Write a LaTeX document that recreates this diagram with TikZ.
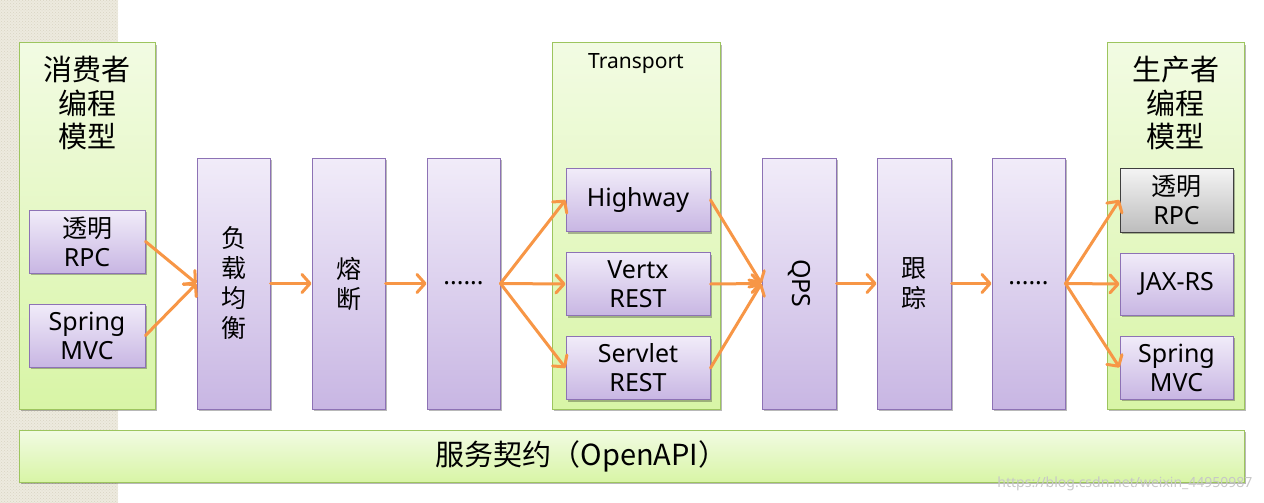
\documentclass[tikz,border=0pt]{standalone}
\usepackage{fontspec}
\setmainfont{Noto Sans}
\newfontfamily\cjk{Noto Sans CJK SC}
\usetikzlibrary{arrows.meta,shadows,patterns}
\definecolor{purpTop}{HTML}{F1ECF9}
\definecolor{purpBot}{HTML}{C8B6E3}
\definecolor{purpBorder}{HTML}{8D72B5}
\definecolor{grnTop}{HTML}{F2FBE3}
\definecolor{grnBot}{HTML}{D8F5A6}
\definecolor{grnBorder}{HTML}{9DC55E}
\definecolor{grayTop}{HTML}{F4F4F4}
\definecolor{grayBot}{HTML}{BDBDBD}
\definecolor{grayBorder}{HTML}{3F3F3F}
\definecolor{flowOrange}{HTML}{F79646}
\definecolor{beige}{HTML}{EDEADF}
\definecolor{beigeDot}{HTML}{D9D5C2}
\begin{document}
\begin{tikzpicture}[x=1pt,y=-1pt,
  shadowed/.style={drop shadow={shadow xshift=1.5pt,shadow yshift=-2pt,opacity=0.28,fill=black}},
  purplebox/.style={shadowed,draw=purpBorder,line width=1pt,top color=purpTop,bottom color=purpBot,
    inner sep=0pt,align=center,font=\fontsize{25}{30}\selectfont},
  graybox/.style={shadowed,draw=grayBorder,line width=1pt,top color=grayTop,bottom color=grayBot,
    inner sep=0pt,align=center,font=\fontsize{25}{29}\selectfont},
  greenbox/.style={shadowed,draw=grnBorder,line width=1pt,top color=grnTop,bottom color=grnBot,inner sep=0pt},
  smallbox/.style={purplebox,minimum width=116pt,minimum height=63pt,font=\fontsize{25}{29}\selectfont},
  tallbox/.style={purplebox,minimum width=73pt,minimum height=251pt},
  tbox/.style={purplebox,minimum width=144pt,minimum height=63pt,font=\fontsize{25}{29}\selectfont},
  pbox/.style={purplebox,minimum width=113pt,minimum height=63pt,font=\fontsize{25}{29}\selectfont},
  titletext/.style={align=center,font=\fontsize{29}{33.5}\selectfont\cjk},
  flow/.style={draw=flowOrange,line width=3pt,line cap=round,
    -{Straight Barb[length=8pt,width=18pt,line cap=round,line join=round]}}
]
\useasboundingbox (0,0) rectangle (1264,503);
% beige strip
\fill[beige] (0,0) rectangle (118,503);
\fill[pattern=crosshatch dots,pattern color=beigeDot] (0,0) rectangle (118,503);

% green containers
\node[greenbox,minimum width=136pt,minimum height=366pt] (cons) at (87,226) {};
\node[greenbox,minimum width=168pt,minimum height=366pt] (trans) at (636,226) {};
\node[greenbox,minimum width=137pt,minimum height=366pt] (prod) at (1175.5,226) {};
\node[greenbox,minimum width=1225pt,minimum height=52pt] (contract) at (631.5,456) {};
\node[font=\fontsize{29}{33}\selectfont\cjk] (contracttext) at (581.5,456) {服务契约（OpenAPI）};

% titles
\node[titletext] (constitle) at (87,103) {消费者\\编程\\模型};
\node[titletext] (prodtitle) at (1175.5,103) {生产者\\编程\\模型};
\node[font=\fontsize{21}{24}\selectfont] (transtitle) at (636,64) {Transport};

% consumer boxes
\node[smallbox] (crpc) at (87,241.5) {{\cjk 透明}\\RPC};
\node[smallbox] (cspring) at (87,335.5) {Spring\\MVC};

% chain boxes
\node[tallbox] (lb) at (233.5,283.5) {\cjk 负\\\cjk 载\\\cjk 均\\\cjk 衡};
\node[tallbox] (fuse) at (348.5,283.5) {\cjk 熔\\\cjk 断};
\node[tallbox] (dotsa) at (463.5,283.5) {......};

% transport boxes
\node[tbox] (highway) at (638,200) {Highway};
\node[tbox] (vertx) at (638,284) {Vertx\\REST};
\node[tbox] (servlet) at (638,368) {Servlet\\REST};

\node[tallbox,minimum width=74pt] (qps) at (799,283.5) {};
\node[rotate=-90,font=\fontsize{25}{30}\selectfont] (qpstext) at (qps.center) {QPS};
\node[tallbox,minimum width=74pt] (trace) at (914,283.5) {\cjk 跟\\\cjk 踪};
\node[tallbox] (dotsb) at (1028.5,283.5) {......};

% producer boxes
\node[graybox,minimum width=113pt,minimum height=64pt] (prpc) at (1176.5,200) {{\cjk 透明}\\RPC};
\node[pbox,minimum height=62pt] (jax) at (1176.5,284) {JAX-RS};
\node[pbox] (pspring) at (1176.5,367.5) {Spring\\MVC};

% arrows
\draw[flow] (crpc.east) -- (lb.west);
\draw[flow] (cspring.east) -- (lb.west);
\draw[flow] (lb.east) -- (fuse.west);
\draw[flow] (fuse.east) -- (dotsa.west);
\draw[flow] (dotsa.east) -- (highway.west);
\draw[flow] (dotsa.east) -- (vertx.west);
\draw[flow] (dotsa.east) -- (servlet.west);
\draw[flow] (highway.east) -- (qps.west);
\draw[flow] (vertx.east) -- (qps.west);
\draw[flow] (servlet.east) -- (qps.west);
\draw[flow] (qps.east) -- (trace.west);
\draw[flow] (trace.east) -- (dotsb.west);
\draw[flow] (dotsb.east) -- (prpc.west);
\draw[flow] (dotsb.east) -- (jax.west);
\draw[flow] (dotsb.east) -- (pspring.west);

% watermark
\node[text=black!22,font=\fontsize{14}{16}\selectfont,anchor=east] (wm) at (1256,484) {https://blog.csdn.net/weixin\_44950987};
\end{tikzpicture}
\end{document}
